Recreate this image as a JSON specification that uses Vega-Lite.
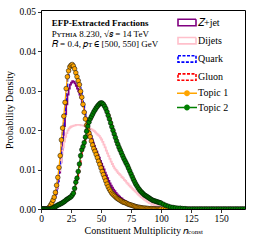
{
"$schema": "https://vega.github.io/schema/vega-lite/v6.json",
"width": 204, "height": 199,
"autosize": {"type": "none"},
"padding": {"left": 41, "top": 10, "right": 11, "bottom": 33},
"background": "white",
"config": {
  "view": {"stroke": "black", "strokeWidth": 1},
  "font": "Liberation Serif",
  "axis": {"grid": false, "domain": false, "tickColor": "black", "tickWidth": 0.8, "tickSize": 3.5, "labelColor": "black", "labelFont": "Liberation Serif", "labelFontSize": 9.5, "titleFont": "Liberation Serif", "titleFontSize": 10, "titleFontWeight": "normal", "titleColor": "black", "labelOverlap": false}
},
"datasets": {"h": [
{"n":0,"zj":0,"dj":0,"q":0,"g":0,"t1":0,"t2":0},
{"n":1,"zj":0,"dj":0,"q":0,"g":0,"t1":0,"t2":0},
{"n":2,"zj":0,"dj":0,"q":0,"g":0,"t1":0,"t2":0},
{"n":3,"zj":0,"dj":0,"q":0,"g":0,"t1":0,"t2":0},
{"n":4,"zj":0,"dj":0,"q":0,"g":0,"t1":0,"t2":0},
{"n":5,"zj":0,"dj":0,"q":0,"g":0,"t1":0,"t2":0},
{"n":6,"zj":0.0002,"dj":0.0002,"q":0.0002,"g":0,"t1":0.0002,"t2":0},
{"n":7,"zj":0.0005,"dj":0.0004,"q":0.0005,"g":0,"t1":0.0005,"t2":0},
{"n":8,"zj":0.0009,"dj":0.0007,"q":0.001,"g":0,"t1":0.001,"t2":0},
{"n":9,"zj":0.0014,"dj":0.0012,"q":0.0015,"g":0.0001,"t1":0.0015,"t2":0.0001},
{"n":10,"zj":0.002,"dj":0.0019,"q":0.0022,"g":0.0002,"t1":0.0022,"t2":0.0002},
{"n":11,"zj":0.0028,"dj":0.0028,"q":0.003,"g":0.0004,"t1":0.003,"t2":0.0004},
{"n":12,"zj":0.0038,"dj":0.004,"q":0.0042,"g":0.0006,"t1":0.0042,"t2":0.0006},
{"n":13,"zj":0.0052,"dj":0.0055,"q":0.006,"g":0.0008,"t1":0.006,"t2":0.0008},
{"n":14,"zj":0.007,"dj":0.0075,"q":0.008,"g":0.001,"t1":0.008,"t2":0.001},
{"n":15,"zj":0.0092,"dj":0.0097,"q":0.0105,"g":0.0011,"t1":0.0105,"t2":0.0011},
{"n":16,"zj":0.0118,"dj":0.0118,"q":0.0135,"g":0.0013,"t1":0.0135,"t2":0.0013},
{"n":17,"zj":0.015,"dj":0.0138,"q":0.0175,"g":0.0014,"t1":0.0175,"t2":0.0014},
{"n":18,"zj":0.018,"dj":0.0156,"q":0.0205,"g":0.0016,"t1":0.0205,"t2":0.0016},
{"n":19,"zj":0.021,"dj":0.0171,"q":0.0235,"g":0.0018,"t1":0.0235,"t2":0.0018},
{"n":20,"zj":0.024,"dj":0.0183,"q":0.027,"g":0.002,"t1":0.027,"t2":0.002},
{"n":21,"zj":0.0265,"dj":0.0192,"q":0.0305,"g":0.0023,"t1":0.0305,"t2":0.0023},
{"n":22,"zj":0.029,"dj":0.0199,"q":0.0335,"g":0.0025,"t1":0.0335,"t2":0.0025},
{"n":23,"zj":0.0305,"dj":0.0204,"q":0.035,"g":0.0027,"t1":0.035,"t2":0.0027},
{"n":24,"zj":0.0315,"dj":0.0207,"q":0.036,"g":0.0029,"t1":0.036,"t2":0.0029},
{"n":25,"zj":0.032,"dj":0.0209,"q":0.0364,"g":0.0031,"t1":0.0364,"t2":0.0031},
{"n":26,"zj":0.0324,"dj":0.021,"q":0.0366,"g":0.0035,"t1":0.0366,"t2":0.0035},
{"n":27,"zj":0.0322,"dj":0.0211,"q":0.0362,"g":0.004,"t1":0.0362,"t2":0.004},
{"n":28,"zj":0.0318,"dj":0.0212,"q":0.0355,"g":0.0052,"t1":0.0355,"t2":0.0052},
{"n":29,"zj":0.0312,"dj":0.0213,"q":0.0345,"g":0.0068,"t1":0.0345,"t2":0.0068},
{"n":30,"zj":0.0305,"dj":0.0213,"q":0.0335,"g":0.0078,"t1":0.0335,"t2":0.0078},
{"n":31,"zj":0.0298,"dj":0.0213,"q":0.0325,"g":0.0095,"t1":0.0325,"t2":0.0095},
{"n":32,"zj":0.029,"dj":0.0213,"q":0.0315,"g":0.0114,"t1":0.0315,"t2":0.0114},
{"n":33,"zj":0.0282,"dj":0.0212,"q":0.0298,"g":0.0135,"t1":0.0298,"t2":0.0135},
{"n":34,"zj":0.0272,"dj":0.0212,"q":0.0283,"g":0.015,"t1":0.0283,"t2":0.015},
{"n":35,"zj":0.026,"dj":0.0211,"q":0.0265,"g":0.0158,"t1":0.0265,"t2":0.0158},
{"n":36,"zj":0.0245,"dj":0.021,"q":0.0245,"g":0.0168,"t1":0.0245,"t2":0.0168},
{"n":37,"zj":0.023,"dj":0.0209,"q":0.0228,"g":0.0182,"t1":0.0228,"t2":0.0182},
{"n":38,"zj":0.0217,"dj":0.0207,"q":0.0212,"g":0.0197,"t1":0.0212,"t2":0.0197},
{"n":39,"zj":0.0205,"dj":0.0206,"q":0.0201,"g":0.021,"t1":0.0201,"t2":0.021},
{"n":40,"zj":0.0195,"dj":0.0205,"q":0.0192,"g":0.022,"t1":0.0192,"t2":0.022},
{"n":41,"zj":0.0186,"dj":0.0203,"q":0.0183,"g":0.0228,"t1":0.0183,"t2":0.0228},
{"n":42,"zj":0.0177,"dj":0.0201,"q":0.0172,"g":0.0234,"t1":0.0172,"t2":0.0234},
{"n":43,"zj":0.0168,"dj":0.0199,"q":0.0162,"g":0.024,"t1":0.0162,"t2":0.024},
{"n":44,"zj":0.016,"dj":0.0197,"q":0.0153,"g":0.0246,"t1":0.0153,"t2":0.0246},
{"n":45,"zj":0.0152,"dj":0.0194,"q":0.0146,"g":0.0251,"t1":0.0146,"t2":0.0251},
{"n":46,"zj":0.0145,"dj":0.0191,"q":0.0138,"g":0.0256,"t1":0.0138,"t2":0.0256},
{"n":47,"zj":0.0137,"dj":0.0188,"q":0.013,"g":0.026,"t1":0.013,"t2":0.026},
{"n":48,"zj":0.013,"dj":0.0185,"q":0.0121,"g":0.0264,"t1":0.0121,"t2":0.0264},
{"n":49,"zj":0.0122,"dj":0.0181,"q":0.0113,"g":0.0267,"t1":0.0113,"t2":0.0267},
{"n":50,"zj":0.0115,"dj":0.0176,"q":0.0104,"g":0.0269,"t1":0.0104,"t2":0.0269},
{"n":51,"zj":0.0107,"dj":0.017,"q":0.0095,"g":0.0268,"t1":0.0095,"t2":0.0268},
{"n":52,"zj":0.01,"dj":0.0163,"q":0.0087,"g":0.0265,"t1":0.0087,"t2":0.0265},
{"n":53,"zj":0.0092,"dj":0.0156,"q":0.0079,"g":0.026,"t1":0.0079,"t2":0.026},
{"n":54,"zj":0.0085,"dj":0.0148,"q":0.0071,"g":0.0254,"t1":0.0071,"t2":0.0254},
{"n":55,"zj":0.0078,"dj":0.0141,"q":0.0063,"g":0.0246,"t1":0.0063,"t2":0.0246},
{"n":56,"zj":0.0071,"dj":0.0134,"q":0.0056,"g":0.0237,"t1":0.0056,"t2":0.0237},
{"n":57,"zj":0.0065,"dj":0.0127,"q":0.005,"g":0.0228,"t1":0.005,"t2":0.0228},
{"n":58,"zj":0.0059,"dj":0.012,"q":0.0045,"g":0.0218,"t1":0.0045,"t2":0.0218},
{"n":59,"zj":0.0054,"dj":0.0114,"q":0.004,"g":0.0208,"t1":0.004,"t2":0.0208},
{"n":60,"zj":0.0049,"dj":0.0108,"q":0.0037,"g":0.0199,"t1":0.0037,"t2":0.0199},
{"n":61,"zj":0.0045,"dj":0.0103,"q":0.0034,"g":0.019,"t1":0.0034,"t2":0.019},
{"n":62,"zj":0.0041,"dj":0.0099,"q":0.0031,"g":0.0181,"t1":0.0031,"t2":0.0181},
{"n":63,"zj":0.0037,"dj":0.0095,"q":0.0028,"g":0.0172,"t1":0.0028,"t2":0.0172},
{"n":64,"zj":0.0034,"dj":0.0091,"q":0.0026,"g":0.0164,"t1":0.0026,"t2":0.0164},
{"n":65,"zj":0.0031,"dj":0.0088,"q":0.0024,"g":0.0156,"t1":0.0024,"t2":0.0156},
{"n":66,"zj":0.0028,"dj":0.0085,"q":0.0022,"g":0.0149,"t1":0.0022,"t2":0.0149},
{"n":67,"zj":0.0026,"dj":0.0081,"q":0.002,"g":0.0142,"t1":0.002,"t2":0.0142},
{"n":68,"zj":0.0023,"dj":0.0078,"q":0.0018,"g":0.0135,"t1":0.0018,"t2":0.0135},
{"n":69,"zj":0.0021,"dj":0.0074,"q":0.0017,"g":0.0128,"t1":0.0017,"t2":0.0128},
{"n":70,"zj":0.0019,"dj":0.0071,"q":0.0016,"g":0.0122,"t1":0.0016,"t2":0.0122},
{"n":71,"zj":0.0017,"dj":0.0067,"q":0.0015,"g":0.0116,"t1":0.0015,"t2":0.0116},
{"n":72,"zj":0.0015,"dj":0.0064,"q":0.0013,"g":0.011,"t1":0.0013,"t2":0.011},
{"n":73,"zj":0.0014,"dj":0.006,"q":0.0012,"g":0.0103,"t1":0.0012,"t2":0.0103},
{"n":74,"zj":0.0012,"dj":0.0057,"q":0.0011,"g":0.0096,"t1":0.0011,"t2":0.0096},
{"n":75,"zj":0.0011,"dj":0.0054,"q":0.001,"g":0.0089,"t1":0.001,"t2":0.0089},
{"n":76,"zj":0.001,"dj":0.0051,"q":0.0009,"g":0.0082,"t1":0.0009,"t2":0.0082},
{"n":77,"zj":0.0009,"dj":0.0048,"q":0.0008,"g":0.0075,"t1":0.0008,"t2":0.0075},
{"n":78,"zj":0.0008,"dj":0.0045,"q":0.0007,"g":0.0069,"t1":0.0007,"t2":0.0069},
{"n":79,"zj":0.0007,"dj":0.0042,"q":0.0006,"g":0.0063,"t1":0.0006,"t2":0.0063},
{"n":80,"zj":0.0006,"dj":0.0039,"q":0.0005,"g":0.0058,"t1":0.0005,"t2":0.0058},
{"n":81,"zj":0.0005,"dj":0.0036,"q":0.00045,"g":0.0053,"t1":0.00045,"t2":0.0053},
{"n":82,"zj":0.0004,"dj":0.0033,"q":0.0004,"g":0.0049,"t1":0.0004,"t2":0.0049},
{"n":83,"zj":0.0004,"dj":0.003,"q":0.00035,"g":0.0045,"t1":0.00035,"t2":0.0045},
{"n":84,"zj":0.0003,"dj":0.0028,"q":0.0003,"g":0.0042,"t1":0.0003,"t2":0.0042},
{"n":85,"zj":0.0003,"dj":0.0026,"q":0.00025,"g":0.0039,"t1":0.00025,"t2":0.0039},
{"n":86,"zj":0.0002,"dj":0.0023,"q":0.0002,"g":0.0036,"t1":0.0002,"t2":0.0036},
{"n":87,"zj":0.0002,"dj":0.0021,"q":0.0002,"g":0.0034,"t1":0.0002,"t2":0.0034},
{"n":88,"zj":0.0002,"dj":0.0019,"q":0.00015,"g":0.0032,"t1":0.00015,"t2":0.0032},
{"n":89,"zj":0.0001,"dj":0.0017,"q":0.00015,"g":0.003,"t1":0.00015,"t2":0.003},
{"n":90,"zj":0.0001,"dj":0.0015,"q":0.0001,"g":0.0028,"t1":0.0001,"t2":0.0028},
{"n":91,"zj":0.0001,"dj":0.0014,"q":0.0001,"g":0.0026,"t1":0.0001,"t2":0.0026},
{"n":92,"zj":0.0001,"dj":0.0012,"q":0.0001,"g":0.0024,"t1":0.0001,"t2":0.0024},
{"n":93,"zj":0.0001,"dj":0.0011,"q":0.00005,"g":0.0022,"t1":0.00005,"t2":0.0022},
{"n":94,"zj":0.00005,"dj":0.001,"q":0.00005,"g":0.0021,"t1":0.00005,"t2":0.0021},
{"n":95,"zj":0.00005,"dj":0.0009,"q":0.00005,"g":0.002,"t1":0.00005,"t2":0.002},
{"n":96,"zj":0.00005,"dj":0.0008,"q":0,"g":0.0019,"t1":0,"t2":0.0019},
{"n":97,"zj":0,"dj":0.0007,"q":0,"g":0.0018,"t1":0,"t2":0.0018},
{"n":98,"zj":0,"dj":0.0006,"q":0,"g":0.0017,"t1":0,"t2":0.0017},
{"n":99,"zj":0,"dj":0.0005,"q":0,"g":0.0016,"t1":0,"t2":0.0016},
{"n":100,"zj":0,"dj":0.0005,"q":0,"g":0.0015,"t1":0,"t2":0.0015},
{"n":102,"zj":0,"dj":0.0004,"q":0,"g":0.0012,"t1":0,"t2":0.0012},
{"n":104,"zj":0,"dj":0.0003,"q":0,"g":0.0009,"t1":0,"t2":0.0009},
{"n":106,"zj":0,"dj":0.0002,"q":0,"g":0.0007,"t1":0,"t2":0.0007},
{"n":108,"zj":0,"dj":0.0001,"q":0,"g":0.0005,"t1":0,"t2":0.0005},
{"n":110,"zj":0,"dj":0.0001,"q":0,"g":0.0004,"t1":0,"t2":0.0004},
{"n":112,"zj":0,"dj":0,"q":0,"g":0.0003,"t1":0,"t2":0.0003},
{"n":114,"zj":0,"dj":0,"q":0,"g":0.0002,"t1":0,"t2":0.0002},
{"n":116,"zj":0,"dj":0,"q":0,"g":0.0002,"t1":0,"t2":0.0002},
{"n":118,"zj":0,"dj":0,"q":0,"g":0.0001,"t1":0,"t2":0.0001},
{"n":120,"zj":0,"dj":0,"q":0,"g":0.0001,"t1":0,"t2":0.0001},
{"n":122,"zj":0,"dj":0,"q":0,"g":0,"t1":0,"t2":0},
{"n":124,"zj":0,"dj":0,"q":0,"g":0,"t1":0,"t2":0},
{"n":126,"zj":0,"dj":0,"q":0,"g":0,"t1":0,"t2":0},
{"n":128,"zj":0,"dj":0,"q":0,"g":0,"t1":0,"t2":0},
{"n":130,"zj":0,"dj":0,"q":0,"g":0,"t1":0,"t2":0},
{"n":132,"zj":0,"dj":0,"q":0,"g":0,"t1":0,"t2":0},
{"n":134,"zj":0,"dj":0,"q":0,"g":0,"t1":0,"t2":0},
{"n":136,"zj":0,"dj":0,"q":0,"g":0,"t1":0,"t2":0},
{"n":138,"zj":0,"dj":0,"q":0,"g":0,"t1":0,"t2":0},
{"n":140,"zj":0,"dj":0,"q":0,"g":0,"t1":0,"t2":0},
{"n":142,"zj":0,"dj":0,"q":0,"g":0,"t1":0,"t2":0},
{"n":144,"zj":0,"dj":0,"q":0,"g":0,"t1":0,"t2":0},
{"n":146,"zj":0,"dj":0,"q":0,"g":0,"t1":0,"t2":0},
{"n":148,"zj":0,"dj":0,"q":0,"g":0,"t1":0,"t2":0},
{"n":150,"zj":0,"dj":0,"q":0,"g":0,"t1":0,"t2":0},
{"n":152,"zj":0,"dj":0,"q":0,"g":0,"t1":0,"t2":0},
{"n":154,"zj":0,"dj":0,"q":0,"g":0,"t1":0,"t2":0},
{"n":156,"zj":0,"dj":0,"q":0,"g":0,"t1":0,"t2":0},
{"n":158,"zj":0,"dj":0,"q":0,"g":0,"t1":0,"t2":0},
{"n":160,"zj":0,"dj":0,"q":0,"g":0,"t1":0,"t2":0},
{"n":162,"zj":0,"dj":0,"q":0,"g":0,"t1":0,"t2":0},
{"n":164,"zj":0,"dj":0,"q":0,"g":0,"t1":0,"t2":0},
{"n":166,"zj":0,"dj":0,"q":0,"g":0,"t1":0,"t2":0},
{"n":168,"zj":0,"dj":0,"q":0,"g":0,"t1":0,"t2":0},
{"n":170,"zj":0,"dj":0,"q":0,"g":0,"t1":0,"t2":0}
],
"a1": [{"line": "EFP-Extracted Fractions"}],
"a2": [{"line": "Pʏᴛʜɪᴀ 8.230, √𝑠 = 14 TeV"}],
"a3": [{"line": "𝑅 = 0.4, 𝑝ᴛ ∈ [500, 550] GeV"}],
"a4": [{"line": "const"}]
},
"layer": [
  {"data": {"name": "h"},
   "transform": [{"fold": ["zj", "dj"], "as": ["k", "d"]}],
   "mark": {"type": "line", "interpolate": "step-after", "strokeWidth": 1.8, "clip": true},
   "encoding": {
     "x": {"field": "n", "type": "quantitative", "scale": {"domain": [0, 170], "nice": false, "zero": false},
        "axis": {"values": [0, 25, 50, 75, 100, 125, 150], "format": "d", "title": "Constituent Multiplicity 𝑛", "labelPadding": 1, "titlePadding": 2, "labelFlush": false, "titleAlign": "right", "titleX": 147}},
     "y": {"field": "d", "type": "quantitative", "scale": {"domain": [0, 0.0504], "nice": false},
        "axis": {"values": [0, 0.01, 0.02, 0.03, 0.04, 0.05], "format": ".2f", "title": "Probability Density", "labelPadding": 2, "titlePadding": 4}},
     "stroke": {"field": "k", "type": "nominal",
      "scale": {"domain": ["zj", "dj", "q", "g", "t1", "t2"], "range": ["purple", "pink", "blue", "red", "orange", "green"]},
      "legend": {"orient": "none", "legendX": 141, "legendY": 7.5, "padding": 0, "title": null,
        "labelFont": "Liberation Serif", "labelFontSize": 10, "labelColor": "black", "labelOffset": 6, "rowPadding": 4.2, "symbolSize": 400,
        "labelExpr": "datum.value=='zj'?'𝑍+jet':datum.value=='dj'?'Dijets':datum.value=='q'?'Quark':datum.value=='g'?'Gluon':datum.value=='t1'?'Topic 1':'Topic 2'",
        "encode": {"symbols": {"update": {
          "shape": {"signal": "(datum.value=='t1'||datum.value=='t2') ? 'M-1,-0.07H-0.3V0.07H-1Z M0.3,-0.07H1V0.07H0.3Z M0.3,0A0.3,0.3 0 1,1 -0.3,0A0.3,0.3 0 1,1 0.3,0Z' : 'M-0.9,-0.32H0.9V0.32H-0.9Z'"},
          "fill": {"signal": "datum.value=='t1' ? 'orange' : datum.value=='t2' ? 'green' : 'white'"},
          "strokeWidth": {"signal": "(datum.value=='t1'||datum.value=='t2') ? 0 : 1.6"},
          "strokeDash": {"signal": "(datum.value=='q'||datum.value=='g') ? [3,1.5] : [1,0]"},
          "opacity": {"value": 1}
        }}}
      }}}
  },
  {"data": {"name": "h"},
   "transform": [{"fold": ["q", "g"], "as": ["k", "d"]}],
   "mark": {"type": "line", "interpolate": "step-after", "strokeWidth": 1.8, "strokeDash": [3.5, 1.8], "clip": true},
   "encoding": {
     "x": {"field": "n", "type": "quantitative", "scale": {"domain": [0, 170], "nice": false, "zero": false},
        "axis": {"values": [0, 25, 50, 75, 100, 125, 150], "format": "d", "title": "Constituent Multiplicity 𝑛", "labelPadding": 1, "titlePadding": 2, "labelFlush": false, "titleAlign": "right", "titleX": 147}},
     "y": {"field": "d", "type": "quantitative", "scale": {"domain": [0, 0.0504], "nice": false},
        "axis": {"values": [0, 0.01, 0.02, 0.03, 0.04, 0.05], "format": ".2f", "title": "Probability Density", "labelPadding": 2, "titlePadding": 4}},
     "stroke": {"field": "k", "type": "nominal"}}
  },
  {"data": {"name": "h"},
   "transform": [{"fold": ["t1"], "as": ["k", "d"]}],
   "encoding": {
     "x": {"field": "n", "type": "quantitative", "scale": {"domain": [0, 170], "nice": false, "zero": false},
        "axis": {"values": [0, 25, 50, 75, 100, 125, 150], "format": "d", "title": "Constituent Multiplicity 𝑛", "labelPadding": 1, "titlePadding": 2, "labelFlush": false, "titleAlign": "right", "titleX": 147}},
     "y": {"field": "d", "type": "quantitative", "scale": {"domain": [0, 0.0504], "nice": false},
        "axis": {"values": [0, 0.01, 0.02, 0.03, 0.04, 0.05], "format": ".2f", "title": "Probability Density", "labelPadding": 2, "titlePadding": 4}}},
   "layer": [
     {"mark": {"type": "line", "strokeWidth": 1.3, "clip": true}, "encoding": {"stroke": {"field": "k", "type": "nominal"}}},
     {"mark": {"type": "point", "filled": true, "size": 22, "stroke": "black", "strokeWidth": 0.5, "opacity": 1, "clip": true},
      "encoding": {"fill": {"field": "k", "type": "nominal", "scale": {"domain": ["t1", "t2"], "range": ["orange", "green"]}, "legend": null}}}
   ]
  },
  {"data": {"name": "h"},
   "transform": [{"fold": ["t2"], "as": ["k", "d"]}],
   "encoding": {
     "x": {"field": "n", "type": "quantitative", "scale": {"domain": [0, 170], "nice": false, "zero": false},
        "axis": {"values": [0, 25, 50, 75, 100, 125, 150], "format": "d", "title": "Constituent Multiplicity 𝑛", "labelPadding": 1, "titlePadding": 2, "labelFlush": false, "titleAlign": "right", "titleX": 147}},
     "y": {"field": "d", "type": "quantitative", "scale": {"domain": [0, 0.0504], "nice": false},
        "axis": {"values": [0, 0.01, 0.02, 0.03, 0.04, 0.05], "format": ".2f", "title": "Probability Density", "labelPadding": 2, "titlePadding": 4}}},
   "layer": [
     {"mark": {"type": "line", "strokeWidth": 1.3, "clip": true}, "encoding": {"stroke": {"field": "k", "type": "nominal"}}},
     {"mark": {"type": "point", "filled": true, "size": 22, "stroke": "black", "strokeWidth": 0.5, "opacity": 1, "clip": true},
      "encoding": {"fill": {"field": "k", "type": "nominal", "legend": null}}}
   ]
  },
  {"data": {"name": "a1"},
   "mark": {"type": "text", "align": "left", "baseline": "alphabetic", "font": "Liberation Serif", "fontSize": 9, "fontWeight": "bold", "color": "black"},
   "encoding": {
     "x": {"datum": 9, "type": "quantitative", "scale": {"domain": [0, 170], "nice": false, "zero": false},
        "axis": {"values": [0, 25, 50, 75, 100, 125, 150], "format": "d", "title": "Constituent Multiplicity 𝑛", "labelPadding": 1, "titlePadding": 2, "labelFlush": false, "titleAlign": "right", "titleX": 147}},
     "y": {"datum": 0.0464, "type": "quantitative", "scale": {"domain": [0, 0.0504], "nice": false},
        "axis": {"values": [0, 0.01, 0.02, 0.03, 0.04, 0.05], "format": ".2f", "title": "Probability Density", "labelPadding": 2, "titlePadding": 4}},
     "text": {"field": "line"}}
  },
  {"data": {"name": "a2"},
   "mark": {"type": "text", "align": "left", "baseline": "alphabetic", "font": "Liberation Serif", "fontSize": 9, "color": "black"},
   "encoding": {
     "x": {"datum": 9, "type": "quantitative", "scale": {"domain": [0, 170], "nice": false, "zero": false},
        "axis": {"values": [0, 25, 50, 75, 100, 125, 150], "format": "d", "title": "Constituent Multiplicity 𝑛", "labelPadding": 1, "titlePadding": 2, "labelFlush": false, "titleAlign": "right", "titleX": 147}},
     "y": {"datum": 0.0436, "type": "quantitative", "scale": {"domain": [0, 0.0504], "nice": false},
        "axis": {"values": [0, 0.01, 0.02, 0.03, 0.04, 0.05], "format": ".2f", "title": "Probability Density", "labelPadding": 2, "titlePadding": 4}},
     "text": {"field": "line"}}
  },
  {"data": {"name": "a3"},
   "mark": {"type": "text", "align": "left", "baseline": "alphabetic", "font": "Liberation Serif", "fontSize": 9, "color": "black"},
   "encoding": {
     "x": {"datum": 9, "type": "quantitative", "scale": {"domain": [0, 170], "nice": false, "zero": false},
        "axis": {"values": [0, 25, 50, 75, 100, 125, 150], "format": "d", "title": "Constituent Multiplicity 𝑛", "labelPadding": 1, "titlePadding": 2, "labelFlush": false, "titleAlign": "right", "titleX": 147}},
     "y": {"datum": 0.0411, "type": "quantitative", "scale": {"domain": [0, 0.0504], "nice": false},
        "axis": {"values": [0, 0.01, 0.02, 0.03, 0.04, 0.05], "format": ".2f", "title": "Probability Density", "labelPadding": 2, "titlePadding": 4}},
     "text": {"field": "line"}}
  },
  {"data": {"name": "a4"},
   "mark": {"type": "text", "align": "left", "baseline": "alphabetic", "font": "Liberation Serif", "fontSize": 7, "color": "black", "clip": false},
   "encoding": {
     "x": {"datum": 122.6, "type": "quantitative", "scale": {"domain": [0, 170], "nice": false, "zero": false},
        "axis": {"values": [0, 25, 50, 75, 100, 125, 150], "format": "d", "title": "Constituent Multiplicity 𝑛", "labelPadding": 1, "titlePadding": 2, "labelFlush": false, "titleAlign": "right", "titleX": 147}},
     "y": {"datum": -0.0064, "type": "quantitative", "scale": {"domain": [0, 0.0504], "nice": false},
        "axis": {"values": [0, 0.01, 0.02, 0.03, 0.04, 0.05], "format": ".2f", "title": "Probability Density", "labelPadding": 2, "titlePadding": 4}},
     "text": {"field": "line"}}
  }
]
}
